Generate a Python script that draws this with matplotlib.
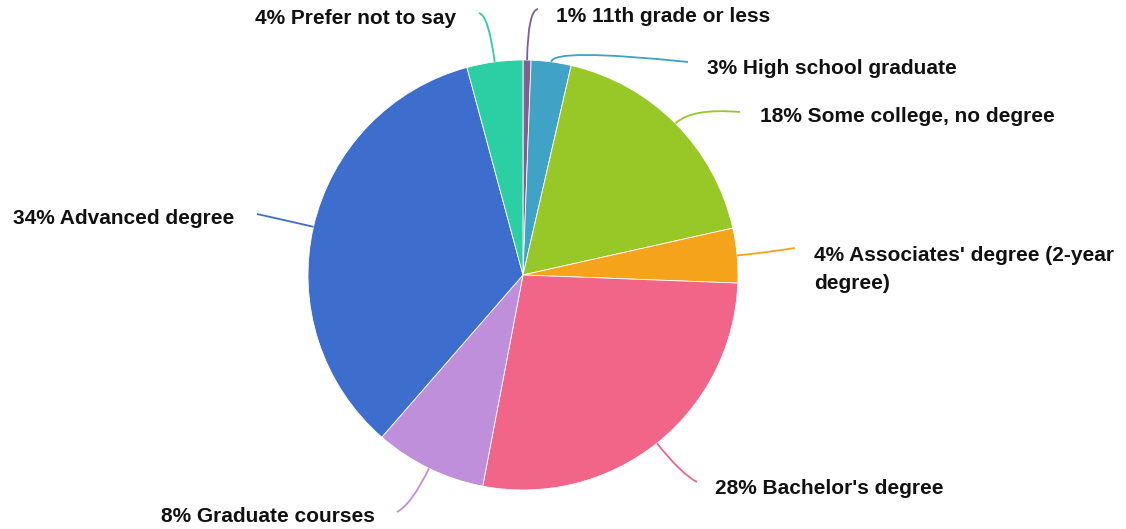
import matplotlib
matplotlib.use("Agg")
import matplotlib.pyplot as plt
from matplotlib.path import Path
from matplotlib.patches import PathPatch
import numpy as np

categories = ["11th grade or less", "High school graduate", "Some college, no degree",
              "Associates' degree (2-year\ndegree)", "Bachelor's degree", "Graduate courses",
              "Advanced degree", "Prefer not to say"]
values = [0.6, 3.0, 17.9, 4.1, 27.4, 8.4, 34.4, 4.2]
pct_labels = ["1%", "3%", "18%", "4%", "28%", "8%", "34%", "4%"]
colors = ["#7d5f96", "#40a2c4", "#98c827", "#f5a31b", "#f06588", "#bf8fdb", "#3d6dcd", "#2ccfa4"]

W, H = 1126, 529
cx, cy, R = 523, 275, 215

# layout: leader-line control length (radial) and end point, label anchor (pixel coords, y down)
ctrl_len = [50, 14, 22, 25, 40, 40, 25, 47]
line_end = [(538, 9), (688, 62), (740, 112), (795, 248), (697, 482), (397, 512), (257, 214), (479, 13)]
label_pos = [(556, 16), (707, 68), (760, 117), (814, 246), (715, 488), (375, 516), (234, 219), (456, 18)]
label_ha = ["left", "left", "left", "left", "left", "right", "right", "right"]

fig = plt.figure(figsize=(W / 100, H / 100), dpi=100)
ax = fig.add_axes([0, 0, 1, 1])

def Y(y):
    return H - y

ax.pie(values, colors=colors, startangle=90, counterclock=False,
       center=(cx, Y(cy)), radius=R, frame=True,
       wedgeprops=dict(edgecolor="white", linewidth=0.6))
ax.set_xlim(0, W)
ax.set_ylim(0, H)
ax.set_aspect("equal")
ax.axis("off")

total = sum(values)
cum = 0.0
for i, v in enumerate(values):
    mid = (cum + v / 2) / total * 2 * np.pi
    cum += v
    dx, dy = np.sin(mid), np.cos(mid)  # clockwise from top, dy upward
    p0 = (cx + R * dx, Y(cy) + R * dy)
    L = ctrl_len[i]
    p1 = (cx + (R + L) * dx, Y(cy) + (R + L) * dy)
    p2 = (line_end[i][0], Y(line_end[i][1]))
    path = Path([p0, p1, p2], [Path.MOVETO, Path.CURVE3, Path.CURVE3])
    ax.add_patch(PathPatch(path, facecolor="none", edgecolor=colors[i], linewidth=1.3))
    lx, ly = label_pos[i]
    ax.text(lx, Y(ly), f"{pct_labels[i]} {categories[i]}", ha=label_ha[i],
            va="top" if "\n" in categories[i] else "center",
            fontsize=15, fontweight="bold", family=["Liberation Sans", "DejaVu Sans"],
            color="#111111", linespacing=1.58)

fig.savefig("out.png", dpi=100, facecolor="white")
